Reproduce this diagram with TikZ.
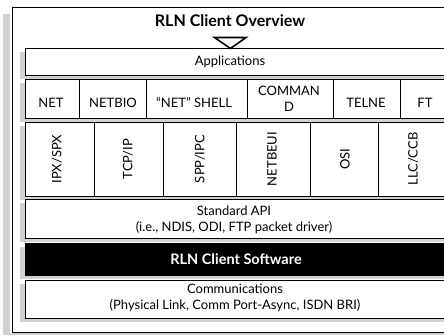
\documentclass[tikz,border=0pt]{standalone}
\usepackage{fontspec}
\setmainfont{Lato}
\usetikzlibrary{shadows}
\definecolor{shadowgray}{gray}{0.82}
\begin{document}
\begin{tikzpicture}[x=1pt,y=-1pt,
  box/.style={draw=black,line width=0.8pt,fill=white,inner sep=0pt,anchor=north west},
  shbox/.style={box,drop shadow={shadow xshift=-5pt,shadow yshift=-4pt,fill=shadowgray,opacity=1}},
  cell/.style={draw=black,line width=0.8pt,inner sep=0pt,anchor=north west},
  lbl/.style={font=\fontsize{13}{16.3}\selectfont,align=center,inner sep=0pt},
  vlbl/.style={lbl,rotate=90},
  bold/.style={lbl,font=\fontsize{14.5}{16}\selectfont\bfseries},
]
\path[use as bounding box] (0,0) rectangle (444,335);
\clip (0,0) rectangle (444,335);
\fill[white] (0,0) rectangle (444,335);
% outer frame with shadow
\fill[shadowgray] (3,14) rectangle (470,335);
\fill[white] (9.8,7) rectangle (480,333.2);
\node[box,minimum width=470pt,minimum height=325pt] (outer) at (11.5,7) {};
% title
\node[lbl,font=\fontsize{16}{18}\selectfont\bfseries] (title) at (230,21) {RLN Client Overview};
% rows
\node[shbox,minimum width=425pt,minimum height=27pt] (app) at (25,48) {};
\node[shbox,minimum width=425pt,minimum height=39pt] (netrow) at (25,79) {};
\node[shbox,minimum width=425pt,minimum height=74pt] (proto) at (25,122) {};
\node[shbox,minimum width=425pt,minimum height=39pt] (api) at (25,199) {};
\node[shbox,fill=black,minimum width=425pt,minimum height=32pt] (rln) at (25,243) {};
\node[shbox,minimum width=425pt,minimum height=38pt] (comm) at (25,280) {};
% triangle
\draw[line width=1.6pt,fill=white,line join=miter] (214.5,37.5) -- (246,37.5) -- (230.5,48.5) -- cycle;
% application cells
\node[cell,minimum width=54pt,minimum height=39pt] (net) at (25,79) {};
\node[cell,minimum width=67pt,minimum height=39pt] (netbio) at (79,79) {};
\node[cell,minimum width=101pt,minimum height=39pt] (shell) at (146,79) {};
\node[cell,minimum width=86pt,minimum height=39pt] (command) at (247,79) {};
\node[cell,minimum width=67pt,minimum height=39pt] (telne) at (333,79) {};
\node[cell,minimum width=50pt,minimum height=39pt] (ft) at (400,79) {};
% protocol cells
\node[cell,minimum width=69pt,minimum height=74pt] (ipx) at (25,122) {};
\node[cell,minimum width=69pt,minimum height=74pt] (tcp) at (94,122) {};
\node[cell,minimum width=73pt,minimum height=74pt] (spp) at (163,122) {};
\node[cell,minimum width=74pt,minimum height=74pt] (netbeui) at (236,122) {};
\node[cell,minimum width=68pt,minimum height=74pt] (osi) at (310,122) {};
\node[cell,minimum width=72pt,minimum height=74pt] (llc) at (378,122) {};
% labels
\node[lbl] (tapp) at (230,62) {Applications};
\node[lbl] (tnet) at (51,102.5) {NET};
\node[lbl] (tnetbio) at (113,102.5) {NETBIO};
\node[lbl] (tshell) at (194,102.5) {``NET'' SHELL};
\node[lbl] (tcommand) at (289,99) {COMMAN\\D};
\node[lbl] (ttelne) at (366,102.5) {TELNE};
\node[lbl] (tft) at (425,102.5) {FT};
\node[vlbl] (tipx) at (57,159) {IPX/SPX};
\node[vlbl] (ttcp) at (128,159) {TCP/IP};
\node[vlbl] (tspp) at (200,159) {SPP/IPC};
\node[vlbl] (tnetbeui) at (272,159) {NETBEUI};
\node[vlbl] (tosi) at (345,159) {OSI};
\node[vlbl] (tllc) at (413,159) {LLC/CCB};
\node[lbl] (tapi) at (234,220) {Standard API\\(i.e., NDIS, ODI, FTP packet driver)};
\node[bold,text=white] (trln) at (236,259) {RLN Client Software};
\node[lbl] (tcomm) at (235,297.5) {Communications\\(Physical Link, Comm Port-Async, ISDN BRI)};
\end{tikzpicture}
\end{document}
